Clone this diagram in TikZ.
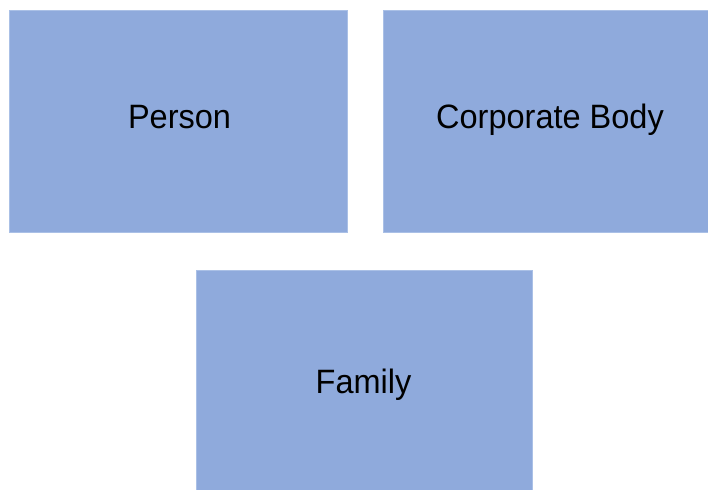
\documentclass[tikz,border=0pt]{standalone}
\usepackage{fontspec}
\setmainfont{Liberation Sans}
\definecolor{boxfill}{RGB}{143,170,220}
\definecolor{boxedge}{RGB}{170,192,230}
\begin{document}
\begin{tikzpicture}[x=1pt,y=-1pt,
  entity/.style={fill=boxfill,draw=boxedge,line width=0.6pt,inner sep=0pt},
  lbl/.style={anchor=base,inner sep=0pt,font=\fontsize{32.5}{36}\selectfont}]
\useasboundingbox (0,0) rectangle (708,489);
\begin{scope}
\clip (0,0) rectangle (708,489);
\node[entity,minimum width=338pt,minimum height=222pt] (person) at (178,121) {};
\node[entity,minimum width=330pt,minimum height=222pt] (corp) at (548,121) {};
\node[entity,minimum width=336pt,minimum height=222pt] (family) at (364.7,381.7) {};
\end{scope}
\node[lbl] (tperson) at (179.5,128.5) {\scalebox{1}[1.04]{Person}};
\node[lbl] (tcorp) at (550,128.5) {\scalebox{1}[1.04]{Corporate Body}};
\node[lbl] (tfamily) at (363.5,393) {\scalebox{1}[1.04]{Family}};
\end{tikzpicture}
\end{document}
